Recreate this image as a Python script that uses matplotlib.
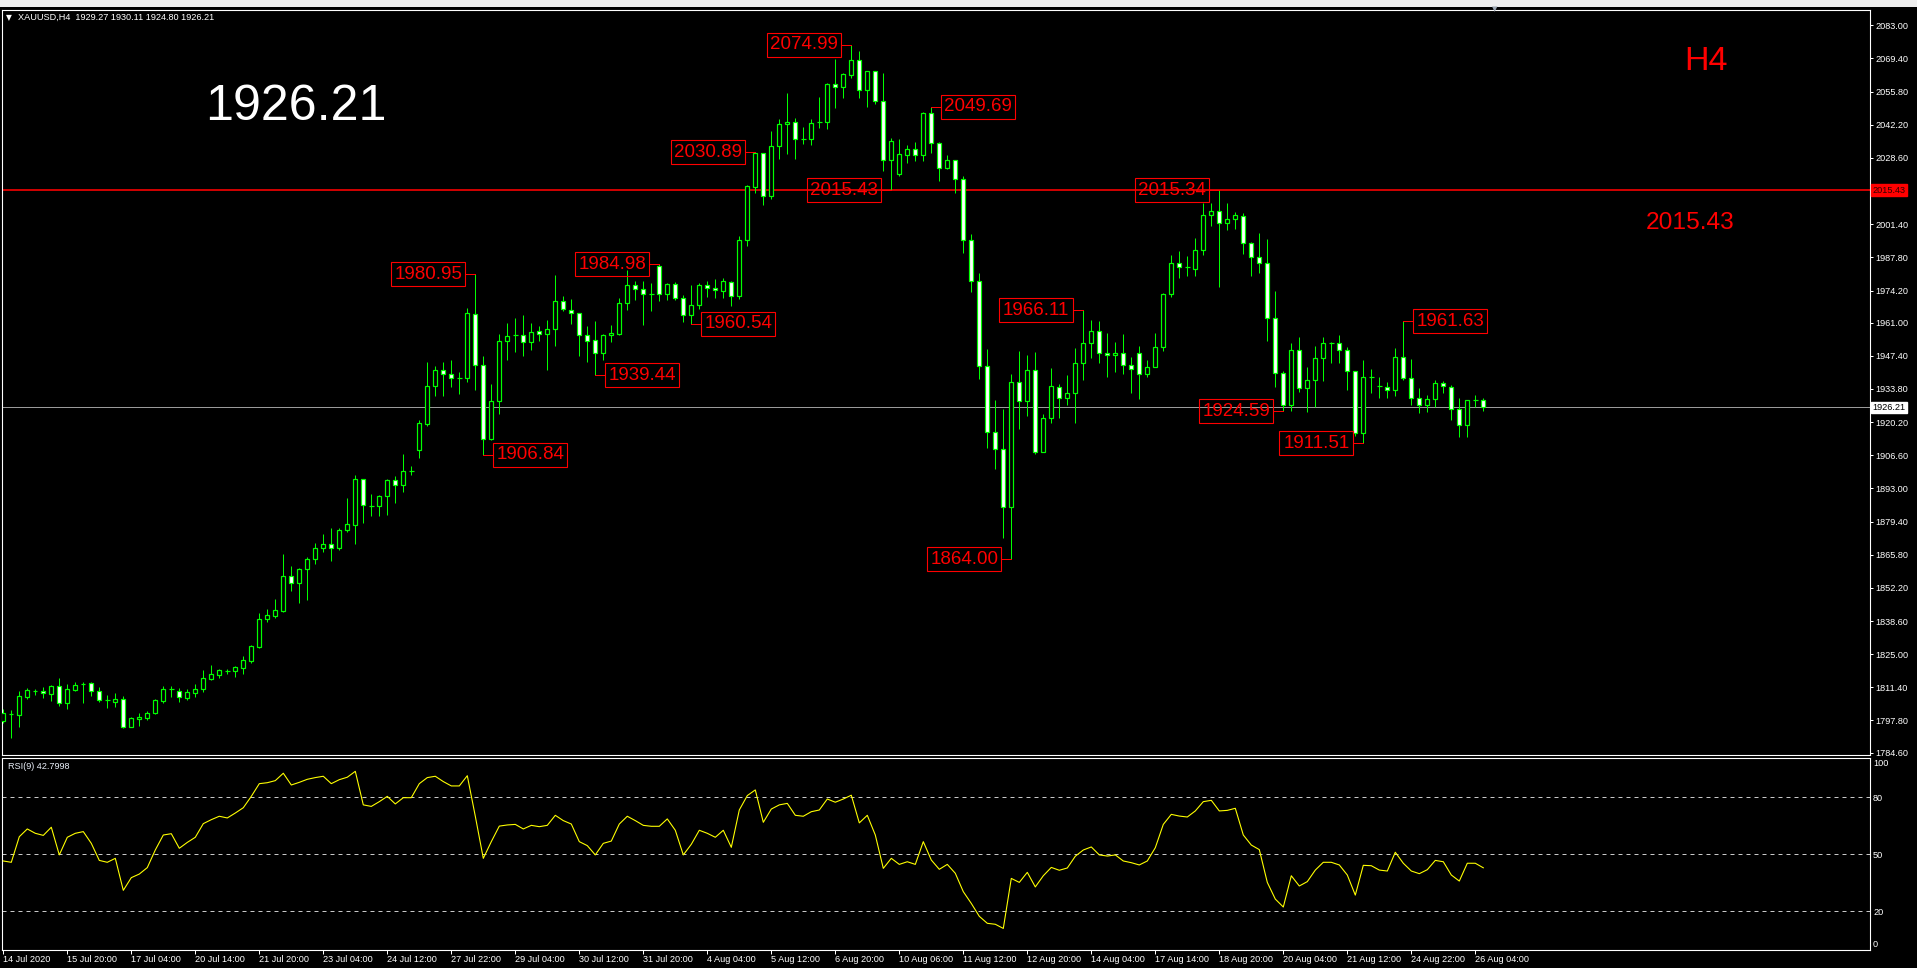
import matplotlib
matplotlib.use("Agg")
import matplotlib.pyplot as plt
from matplotlib import font_manager
from matplotlib.patches import Rectangle
import numpy as np

# ---------------- data ----------------
symbol = "XAUUSD"
timeframe = "H4"

opens = [1797.7, 1800.5, 1800.2, 1807.6, 1810.0, 1809.8, 1808.7, 1812.0, 1805.1, 1810.3,
         1812.9, 1813.0, 1809.8, 1806.0, 1805.4, 1806.5, 1795.3, 1798.3, 1798.8, 1800.7,
         1805.9, 1810.8, 1809.8, 1807.0, 1809.2, 1810.6, 1815.0, 1816.6, 1818.3, 1818.0,
         1819.3, 1822.4, 1828.1, 1839.6, 1840.7, 1842.6, 1857.1, 1854.4, 1859.9, 1864.0,
         1868.4, 1870.3, 1868.4, 1875.8, 1878.2, 1896.8, 1885.9, 1885.6, 1889.7, 1896.3,
         1894.4, 1900.1, 1908.6, 1919.6, 1934.9, 1941.5, 1939.8, 1938.4, 1938.4, 1964.5,
         1943.6, 1913.3, 1928.9, 1953.5, 1956.0, 1956.0, 1953.0, 1957.6, 1956.2, 1958.4,
         1969.7, 1966.4, 1965.0, 1956.0, 1953.8, 1948.6, 1956.0, 1956.5, 1969.1, 1976.5,
         1974.9, 1972.9, 1984.2, 1972.9, 1976.8, 1971.3, 1964.2, 1968.3, 1976.5, 1975.4,
         1974.0, 1977.6, 1971.8, 1995.0, 2016.8, 2030.5, 2012.9, 2033.4, 2042.5, 2043.2,
         2036.2, 2036.2, 2043.2, 2043.2, 2058.9, 2057.8, 2062.5, 2068.6, 2056.4, 2064.1,
         2051.9, 2027.9, 2021.8, 2029.9, 2032.2, 2029.7, 2047.1, 2034.8, 2024.3, 2027.7,
         2019.8, 1994.9, 1978.0, 1943.2, 1916.1, 1909.1, 1885.3, 1936.6, 1928.8, 1941.5,
         1907.9, 1921.8, 1934.7, 1929.9, 1932.0, 1944.6, 1952.5, 1957.4, 1948.4, 1947.6,
         1948.4, 1943.5, 1948.7, 1939.9, 1942.7, 1950.9, 1972.6, 1985.3, 1984.0, 1983.2,
         1990.7, 2005.0, 2006.7, 2002.0, 2003.4, 2004.8, 1993.6, 1987.8, 1985.6, 1962.8,
         1940.2, 1927.4, 1949.8, 1934.1, 1937.5, 1946.4, 1952.5, 1952.5, 1949.8, 1941.0,
         1915.9, 1938.9, 1935.0, 1934.7, 1933.4, 1947.0, 1938.2, 1930.0, 1927.2, 1929.6,
         1936.1, 1934.7, 1925.4, 1919.2, 1929.3, 1929.27]

highs = [1802.4, 1802.1, 1810.0, 1811.1, 1810.9, 1811.4, 1812.2, 1815.2, 1812.8, 1813.6,
         1813.6, 1813.6, 1811.7, 1808.1, 1809.2, 1807.8, 1799.4, 1801.0, 1801.8, 1806.8,
         1811.9, 1811.9, 1811.1, 1810.9, 1812.8, 1818.5, 1820.4, 1819.1, 1819.1, 1820.2,
         1824.3, 1828.7, 1842.1, 1843.7, 1847.8, 1865.9, 1861.2, 1860.4, 1864.8, 1870.8,
         1874.4, 1876.8, 1876.6, 1888.9, 1898.7, 1896.8, 1890.8, 1890.5, 1896.8, 1898.2,
         1907.0, 1902.3, 1920.9, 1944.7, 1943.4, 1945.0, 1945.8, 1940.9, 1967.2, 1980.95,
         1947.5, 1936.0, 1956.5, 1960.9, 1962.8, 1964.2, 1960.9, 1959.5, 1962.3, 1980.6,
         1972.1, 1970.7, 1965.0, 1959.5, 1961.7, 1956.5, 1960.1, 1971.3, 1982.8, 1978.1,
         1978.1, 1977.1, 1984.98, 1977.3, 1977.6, 1972.4, 1976.5, 1977.3, 1977.9, 1979.0,
         1979.3, 1977.9, 1996.7, 2017.5, 2030.89, 2030.6, 2039.7, 2044.7, 2055.3, 2044.9,
         2041.3, 2044.7, 2053.6, 2059.2, 2069.2, 2063.4, 2074.99, 2072.3, 2064.1, 2064.1,
         2063.4, 2036.6, 2036.2, 2033.8, 2035.2, 2047.5, 2049.69, 2035.2, 2029.8, 2027.7,
         2021.2, 1997.5, 1981.4, 1950.3, 1929.3, 1925.7, 1940.1, 1949.4, 1947.8, 1948.9,
         1923.6, 1942.3, 1935.7, 1939.5, 1950.5, 1966.11, 1962.1, 1961.7, 1956.6, 1953.1,
         1956.4, 1946.8, 1951.4, 1945.7, 1956.6, 1973.3, 1988.8, 1990.4, 1988.4, 1995.6,
         2010.0, 2010.0, 2015.34, 2010.2, 2006.5, 2006.1, 1994.2, 1997.6, 1995.2, 1974.0,
         1941.2, 1952.5, 1955.3, 1942.9, 1951.4, 1955.0, 1953.2, 1955.9, 1951.1, 1941.0,
         1945.7, 1941.9, 1938.6, 1936.6, 1950.5, 1961.63, 1945.9, 1934.1, 1931.2, 1937.5,
         1937.2, 1935.4, 1930.3, 1929.3, 1931.2, 1930.11]

lows = [1796.6, 1790.7, 1795.3, 1806.8, 1808.1, 1807.0, 1805.9, 1803.7, 1802.6, 1810.0,
        1805.1, 1807.8, 1805.4, 1803.0, 1803.5, 1794.7, 1795.2, 1795.6, 1798.0, 1800.5,
        1805.1, 1807.6, 1805.4, 1806.2, 1807.6, 1809.5, 1814.4, 1815.2, 1816.9, 1815.8,
        1816.9, 1821.5, 1827.6, 1838.0, 1839.9, 1842.4, 1850.8, 1845.9, 1847.3, 1861.8,
        1867.0, 1863.4, 1867.6, 1875.2, 1870.0, 1879.0, 1881.8, 1881.5, 1882.3, 1887.2,
        1891.6, 1898.7, 1905.3, 1918.7, 1931.1, 1931.1, 1934.6, 1931.6, 1936.5, 1933.5,
        1906.84, 1912.7, 1923.4, 1945.8, 1949.1, 1947.5, 1949.7, 1953.5, 1941.5, 1951.3,
        1965.8, 1960.4, 1947.2, 1944.7, 1939.44, 1945.8, 1953.0, 1956.0, 1966.4, 1970.5,
        1960.1, 1965.8, 1969.7, 1970.2, 1970.2, 1961.4, 1960.54, 1966.6, 1971.6, 1971.3,
        1971.0, 1967.7, 1970.7, 1992.4, 2014.0, 2009.1, 2011.6, 2028.1, 2030.0, 2028.1,
        2034.5, 2034.1, 2040.7, 2040.6, 2048.9, 2053.1, 2061.3, 2053.3, 2049.3, 2050.7,
        2023.2, 2015.43, 2021.1, 2026.7, 2027.4, 2027.4, 2030.5, 2019.0, 2024.2, 2014.4,
        1989.6, 1973.7, 1937.7, 1909.5, 1901.0, 1872.8, 1864.00, 1917.2, 1922.6, 1907.1,
        1907.9, 1919.7, 1921.8, 1927.2, 1920.0, 1937.5, 1946.6, 1944.6, 1938.6, 1940.8,
        1939.9, 1932.0, 1929.6, 1938.6, 1942.7, 1949.5, 1971.7, 1979.2, 1980.1, 1980.1,
        1988.9, 2000.7, 1975.8, 1999.0, 1999.6, 1989.2, 1980.1, 1981.2, 1953.6, 1934.5,
        1924.59, 1924.9, 1932.7, 1924.5, 1926.3, 1937.2, 1944.6, 1944.6, 1933.4, 1914.5,
        1911.51, 1932.0, 1930.1, 1930.1, 1930.9, 1937.5, 1927.2, 1923.8, 1924.5, 1926.5,
        1932.3, 1921.1, 1914.2, 1914.2, 1926.5, 1924.80]

closes = [1800.7, 1800.4, 1807.8, 1810.3, 1810.1, 1809.0, 1812.0, 1805.1, 1810.8, 1812.2,
          1812.8, 1809.8, 1806.0, 1806.0, 1806.5, 1795.3, 1798.8, 1799.4, 1800.7, 1806.2,
          1810.9, 1810.8, 1807.3, 1809.5, 1810.6, 1815.2, 1816.9, 1818.5, 1818.3, 1819.6,
          1822.6, 1828.4, 1839.6, 1841.0, 1843.2, 1857.1, 1854.4, 1860.1, 1864.2, 1868.6,
          1870.3, 1868.4, 1876.0, 1878.5, 1896.8, 1886.2, 1885.9, 1889.7, 1896.6, 1894.4,
          1900.1, 1900.1, 1919.8, 1934.9, 1941.5, 1939.8, 1938.2, 1938.4, 1965.0, 1943.6,
          1913.3, 1928.9, 1953.5, 1955.7, 1956.0, 1953.0, 1957.3, 1956.5, 1958.4, 1969.7,
          1966.7, 1965.0, 1956.0, 1953.5, 1948.6, 1956.0, 1956.8, 1969.1, 1976.5, 1974.9,
          1972.9, 1972.9, 1972.9, 1976.8, 1971.3, 1964.2, 1968.3, 1976.5, 1975.4, 1974.3,
          1977.9, 1971.8, 1995.0, 2017.1, 2030.5, 2012.9, 2033.4, 2042.5, 2043.2, 2036.2,
          2036.2, 2043.0, 2043.2, 2058.9, 2057.8, 2063.0, 2068.6, 2056.4, 2064.1, 2052.1,
          2027.9, 2035.6, 2030.2, 2032.2, 2029.7, 2047.1, 2034.8, 2024.3, 2027.7, 2020.1,
          1994.9, 1978.0, 1943.2, 1916.1, 1909.1, 1885.3, 1936.6, 1928.8, 1941.5, 1907.9,
          1921.8, 1935.0, 1929.9, 1932.0, 1944.6, 1952.5, 1957.4, 1948.4, 1947.6, 1948.4,
          1943.5, 1941.9, 1939.9, 1942.7, 1950.9, 1972.6, 1985.3, 1984.0, 1984.0, 1990.7,
          2005.0, 2006.7, 2002.0, 2003.4, 2005.0, 1993.6, 1987.8, 1985.6, 1962.8, 1940.2,
          1927.4, 1949.8, 1934.1, 1937.5, 1946.4, 1952.5, 1952.5, 1949.8, 1941.0, 1915.9,
          1938.9, 1938.9, 1935.0, 1933.4, 1947.0, 1938.2, 1930.0, 1927.2, 1929.6, 1936.1,
          1935.0, 1925.4, 1919.2, 1929.3, 1929.3, 1926.21]

rsi_values = [46.4, 45.7, 59.2, 63.3, 61.0, 59.9, 64.2, 49.6, 58.9, 61.0,
              61.9, 55.7, 46.7, 45.7, 47.8, 30.9, 37.6, 39.5, 42.9, 52.2,
              60.1, 60.8, 53.1, 56.2, 58.9, 66.1, 68.2, 70.0, 69.1, 71.7,
              74.5, 80.5, 87.2, 87.7, 88.8, 92.7, 86.5, 87.9, 89.5, 90.4,
              91.1, 87.2, 89.3, 90.6, 93.7, 76.0, 75.2, 77.7, 80.5, 76.5,
              79.8, 79.8, 87.2, 90.4, 91.1, 88.3, 86.0, 86.0, 91.4, 70.0,
              47.8, 56.6, 64.8, 65.4, 65.7, 63.3, 65.2, 64.5, 65.2, 70.5,
              67.7, 65.9, 56.6, 54.5, 49.6, 55.7, 56.9, 65.9, 70.0, 67.7,
              65.2, 64.7, 64.7, 68.6, 62.6, 49.6, 55.2, 62.6, 61.0, 58.9,
              62.6, 53.6, 73.3, 80.9, 83.9, 66.8, 73.8, 76.0, 76.8, 70.5,
              70.0, 72.4, 73.3, 79.1, 77.4, 79.1, 81.1, 66.5, 70.5, 60.1,
              42.5, 47.8, 44.6, 46.0, 44.6, 56.6, 46.9, 42.0, 44.6, 39.9,
              30.2, 24.0, 17.2, 13.5, 13.0, 10.8, 37.2, 35.1, 40.4, 32.7,
              38.6, 43.0, 41.5, 42.7, 48.9, 52.2, 53.8, 49.6, 49.0, 49.6,
              46.4, 45.5, 44.3, 46.4, 53.4, 65.7, 71.0, 70.1, 69.6, 72.8,
              77.7, 78.4, 72.8, 73.1, 74.2, 60.1, 54.8, 52.4, 35.1, 26.3,
              22.1, 38.6, 33.2, 35.5, 41.6, 45.7, 45.7, 44.3, 39.0, 28.4,
              44.1, 43.9, 41.6, 41.1, 51.0, 45.2, 41.1, 39.7, 41.8, 46.7,
              46.0, 39.0, 35.8, 45.2, 45.2, 42.7998]
rsi_period = 9
rsi_levels = [20, 50, 80]
rsi_tick_values = [100, 80, 50, 20, 0]

level_price = 2015.43

price_tick_values = [2083.00, 2069.40, 2055.80, 2042.20, 2028.60, 2001.40, 1987.80,
                     1974.20, 1961.00, 1947.40, 1933.80, 1920.20, 1906.60, 1893.00,
                     1879.40, 1865.80, 1852.20, 1838.60, 1825.00, 1811.40, 1797.80,
                     1784.60]

date_tick_bars = [0, 8, 16, 24, 32, 40, 48, 56, 64, 72, 80, 88, 96, 104, 112, 120,
                  128, 136, 144, 152, 160, 168, 176, 184]
date_tick_labels = ["14 Jul 2020", "15 Jul 20:00", "17 Jul 04:00", "20 Jul 14:00",
                    "21 Jul 20:00", "23 Jul 04:00", "24 Jul 12:00", "27 Jul 22:00",
                    "29 Jul 04:00", "30 Jul 12:00", "31 Jul 20:00", "4 Aug 04:00",
                    "5 Aug 12:00", "6 Aug 20:00", "10 Aug 06:00", "11 Aug 12:00",
                    "12 Aug 20:00", "14 Aug 04:00", "17 Aug 14:00", "18 Aug 20:00",
                    "20 Aug 04:00", "21 Aug 12:00", "24 Aug 22:00", "26 Aug 04:00"]

# swing points labelled on the chart (bar index, high/low)
swing_bars = [59, 60, 74, 82, 86, 94, 106, 111, 116, 126, 135, 152, 160, 170, 175]
swing_kinds = ["H", "L", "L", "H", "L", "H", "H", "L", "H", "L", "H", "H", "L", "L", "H"]

# ---------------- style ----------------
W, H = 1917, 968
GREEN = "#00ff00"
RED = "#ff0000"
PX = 0.72  # one pixel in points at dpi 100

names = {f.name for f in font_manager.fontManager.ttflist}
if "Liberation Sans Narrow" in names:
    NARROW, NS = "Liberation Sans Narrow", 1.0
else:
    NARROW, NS = "Liberation Sans", 0.82

plt.rcParams["font.family"] = [NARROW, "DejaVu Sans"]

fig = plt.figure(figsize=(W / 100, H / 100), dpi=100, facecolor="black")


def fx(px):
    return px / W


def fy(py):
    return 1 - py / H


# toolbar strip on top
fig.patches.append(Rectangle((0, fy(7)), 1, 7 / H, transform=fig.transFigure,
                             facecolor="#eeeeee", edgecolor="none", zorder=0))

ax = fig.add_axes([fx(2), fy(755), fx(1868), fy(10) - fy(755)])
axr = fig.add_axes([fx(2), fy(950), fx(1868), fy(758) - fy(950)])

PX_PER_BAR = 8.0
xmin = -0.1625
xmax = xmin + 1868 / PX_PER_BAR

for a in (ax, axr):
    a.set_facecolor("black")
    for s in a.spines.values():
        s.set_color("white")
        s.set_linewidth(1.1 * PX)
    a.set_xlim(xmin, xmax)

ax.set_ylim(1783.64, 2089.28)
axr.set_ylim(-0.58, 100.74)

# ---------------- candles ----------------
o = np.array(opens)
h = np.array(highs)
l = np.array(lows)
c = np.array(closes)
x = np.arange(len(c))

ax.vlines(x, l, h, color=GREEN, linewidth=1.0 * PX, zorder=2)
bull = c > o
bear = c < o
doji = c == o
BW = 0.5
ax.bar(x[bull], (c - o)[bull], bottom=o[bull], width=BW, facecolor="black",
       edgecolor=GREEN, linewidth=1.2 * PX, zorder=3)
ax.bar(x[bear], (o - c)[bear], bottom=c[bear], width=BW, facecolor="white",
       edgecolor=GREEN, linewidth=1.2 * PX, zorder=3)
ax.hlines(c[doji], x[doji] - 0.35, x[doji] + 0.35, color=GREEN,
          linewidth=1.2 * PX, zorder=3)

# horizontal lines
ax.axhline(level_price, color=RED, linewidth=1.6 * PX, zorder=1)
ax.axhline(closes[-1], color="#9a9a9a", linewidth=1.0 * PX, zorder=1)

# price axis on the right
ax.yaxis.tick_right()
ax.set_yticks(price_tick_values)
ax.set_yticklabels([f"{v:.2f}" for v in price_tick_values])
ax.tick_params(axis="y", colors="white", labelcolor="white", length=3 * PX,
               width=1.0 * PX, pad=2 * PX, labelsize=8 * NS)
ax.set_xticks([])

# right-axis highlighted prices
ytrans = ax.get_yaxis_transform()
ax.text(1.0013, level_price, f"{level_price:.2f}", transform=ytrans, ha="left",
        va="center", fontsize=8 * NS, color="#300000", zorder=6, clip_on=False,
        bbox=dict(boxstyle="square,pad=0.12", facecolor=RED, edgecolor=RED))
ax.text(1.0013, closes[-1], f"{closes[-1]:.2f}", transform=ytrans, ha="left",
        va="center", fontsize=8 * NS, color="black", zorder=6, clip_on=False,
        bbox=dict(boxstyle="square,pad=0.12", facecolor="white", edgecolor="white"))

# ---------------- swing labels ----------------
price_per_px = (2089.28 - 1783.64) / 745.0
box_w = 74 / PX_PER_BAR
box_h = 24 * price_per_px
gap = 10 / PX_PER_BAR
side_left = {59, 82, 94, 106, 111, 126, 135, 152, 160, 170}
for b, k in zip(swing_bars, swing_kinds):
    v = highs[b] if k == "H" else lows[b]
    if b in side_left:
        x1 = b - gap
        x0 = x1 - box_w
        edge = x1
    else:
        x0 = b + gap
        edge = x0
    ax.plot([b, edge], [v, v], color=RED, linewidth=1.0 * PX, zorder=4,
            clip_on=False)
    ax.add_patch(Rectangle((x0, v - box_h / 2), box_w, box_h, facecolor="none",
                           edgecolor=RED, linewidth=1.1 * PX, zorder=4))
    ax.text(x0 + box_w / 2, v, f"{v:.2f}", color=RED, ha="center", va="center",
            fontsize=16.5 * NS, zorder=5)

# ---------------- big texts ----------------
fig.text(fx(205), fy(120), f"{closes[-1]:.2f}", color="white", ha="left",
         va="baseline", fontsize=44 * NS)
fig.text(fx(1684), fy(70), timeframe, color=RED, ha="left", va="baseline",
         fontsize=30 * NS)
fig.text(fx(1646), fy(229), f"{level_price:.2f}", color=RED, ha="left",
         va="baseline", fontsize=21.5 * NS)

# header
fig.text(fx(6), fy(17.5), "\u25bc", color="white", ha="left", va="center",
         fontsize=5.5, family="DejaVu Sans")
fig.text(fx(18), fy(17.5),
         f"{symbol},{timeframe}  {opens[-1]:.2f} {highs[-1]:.2f} {lows[-1]:.2f} {closes[-1]:.2f}",
         color="white", ha="left", va="center", fontsize=8 * NS)
fig.text(fx(1495), fy(9), "\u25bc", color="#9aa4b0", ha="center", va="center",
         fontsize=5, family="DejaVu Sans")

# ---------------- RSI panel ----------------
axr.plot(x, rsi_values, color="#ffff00", linewidth=1.1 * PX, zorder=3)
for lv in rsi_levels:
    axr.axhline(lv, color="#c8c8c8", linewidth=1.0 * PX, linestyle=(0, (4, 4)),
                zorder=2)
axr.yaxis.tick_right()
axr.set_yticks(rsi_tick_values)
axr.set_yticklabels([str(v) for v in rsi_tick_values])
axr.tick_params(axis="y", colors="white", labelcolor="white", length=0,
                pad=3 * PX, labelsize=8 * NS)
ylabels = axr.get_yticklabels()
ylabels[0].set_va("top")
ylabels[-1].set_va("bottom")

axr.set_xticks(date_tick_bars)
axr.set_xticklabels(date_tick_labels, ha="left")
axr.tick_params(axis="x", colors="white", labelcolor="white", length=3.5 * PX,
                width=1.0 * PX, pad=1.0, labelsize=8 * NS)

axr.text(0.003, 0.955, f"RSI({rsi_period}) {rsi_values[-1]:.4f}",
         transform=axr.transAxes, color="#e8eef8", ha="left", va="center",
         fontsize=8 * NS)

fig.savefig("out.png", dpi=100, facecolor="black")
